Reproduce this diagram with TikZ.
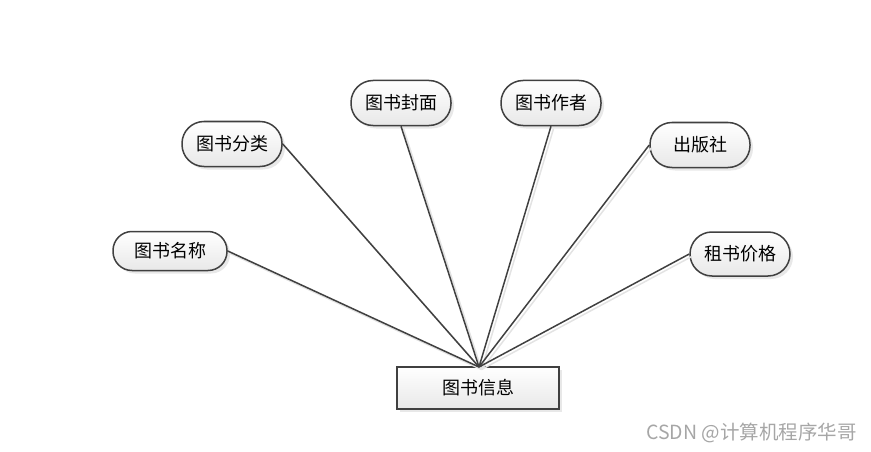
\documentclass[tikz,border=0pt]{standalone}
\usepackage{fontspec}
\newfontfamily\cjk{Noto Sans CJK SC}
\usetikzlibrary{shadows}
\definecolor{edge}{HTML}{404040}
\tikzset{
  attr/.style={rectangle, rounded corners=22pt, draw=edge, line width=1.5pt, minimum width=100pt, minimum height=45pt,
    inner sep=0pt, top color=white, bottom color=gray!18, font=\cjk\fontsize{18}{21}\selectfont,
    drop shadow={opacity=0.18, shadow xshift=3pt, shadow yshift=-3pt}},
  entity/.style={rectangle, draw=edge, line width=1.5pt, minimum width=162pt, minimum height=42pt,
    inner sep=0pt, top color=white, bottom color=gray!18, font=\cjk\fontsize{18}{21}\selectfont,
    drop shadow={opacity=0.18, shadow xshift=3pt, shadow yshift=-3pt}},
  conn/.style={draw=edge, line width=1.5pt},
  connshadow/.style={draw=gray!22, line width=1.5pt, transform canvas={xshift=2.5pt, yshift=-2.5pt}}
}
\begin{document}
\begin{tikzpicture}[x=1pt,y=-1pt]
\useasboundingbox (0,0) rectangle (871,452);
\node[attr, minimum width=114pt, minimum height=39pt, rounded corners=19pt] (mc) at (170,251) {图书名称};
\node[attr] (fl) at (232,144) {图书分类};
\node[attr] (fm) at (401,103) {图书封面};
\node[attr] (zz) at (551,103) {图书作者};
\node[attr] (cbs) at (700,145) {出版社};
\node[attr, minimum height=44pt] (jg) at (740,254) {租书价格};
\node[entity] (xx) at (478,388) {图书信息};
\coordinate (hub) at (479,367);
\foreach \a in {mc.east, fl.east, fm.south, zz.south, cbs.west, jg.west}{
  \draw[connshadow] (\a) -- (hub);
}
\foreach \a in {mc.east, fl.east, fm.south, zz.south, cbs.west, jg.west}{
  \draw[conn] (\a) -- (hub);
}
\node[anchor=east, text=gray!70, font=\cjk\fontsize{19.5}{22}\selectfont, inner sep=0pt] (wm) at (857,433) {CSDN @计算机程序华哥};
\end{tikzpicture}
\end{document}
